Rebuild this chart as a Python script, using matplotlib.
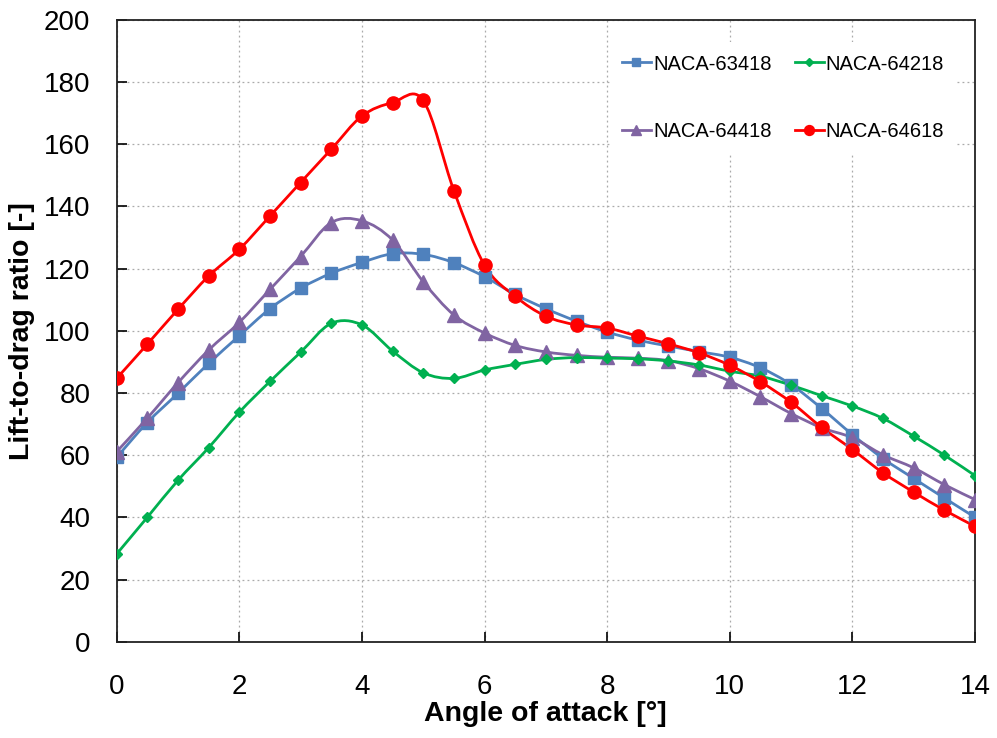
import numpy as np
import matplotlib
matplotlib.use("Agg")
import matplotlib.pyplot as plt
from matplotlib.path import Path
from matplotlib.patches import PathPatch

plt.rcParams["font.family"] = ["Liberation Sans", "DejaVu Sans"]

aoa = [0, 0.5, 1, 1.5, 2, 2.5, 3, 3.5, 4, 4.5, 5, 5.5, 6, 6.5, 7,
       7.5, 8, 8.5, 9, 9.5, 10, 10.5, 11, 11.5, 12, 12.5, 13, 13.5, 14]

naca_63418 = [59.3, 70.5, 79.9, 89.5, 98.4, 107.1, 113.7, 118.5, 122.0, 124.8,
              124.6, 121.9, 117.4, 111.7, 107.1, 103.1, 99.6, 97.0, 95.1, 93.3,
              91.5, 88.1, 82.7, 75.0, 66.6, 58.9, 52.5, 46.2, 40.0]
naca_64218 = [28.2, 40.0, 51.9, 62.4, 73.8, 83.7, 93.1, 102.4, 101.9, 93.5,
              86.5, 84.7, 87.4, 89.2, 90.8, 91.4, 91.2, 91.0, 90.3, 89.0,
              87.0, 85.4, 82.5, 79.1, 75.8, 71.8, 66.1, 60.0, 53.4]
naca_64418 = [61.1, 71.9, 83.3, 93.8, 102.7, 113.3, 123.9, 134.8, 135.4, 129.2,
              115.8, 105.1, 99.3, 95.3, 93.2, 92.1, 91.5, 91.2, 90.4, 87.8,
              83.8, 78.8, 73.4, 68.8, 65.6, 60.1, 55.9, 50.5, 45.7]
naca_64618 = [84.7, 95.7, 106.9, 117.6, 126.2, 136.9, 147.7, 158.4, 169.1, 173.4,
              174.1, 145.1, 121.1, 111.1, 104.7, 101.9, 100.9, 98.3, 95.8, 92.9,
              88.9, 83.6, 77.0, 68.9, 61.8, 54.3, 48.1, 42.3, 37.1]

series = [
    ("NACA-63418", naca_63418, "#4F81BD", "s", 8.5),
    ("NACA-64418", naca_64418, "#8064A2", "^", 9.5),
    ("NACA-64218", naca_64218, "#00B050", "D", 5.5),
    ("NACA-64618", naca_64618, "#FF0000", "o", 9.5),
]


def smooth_path(x, y):
    # excel style smoothed line: cubic bezier through the points
    pts = np.column_stack([x, y])
    verts = [pts[0]]
    codes = [Path.MOVETO]
    n = len(pts)
    for i in range(n - 1):
        p0 = pts[max(i - 1, 0)]
        p1 = pts[i]
        p2 = pts[i + 1]
        p3 = pts[min(i + 2, n - 1)]
        c1 = p1 + (p2 - p0) / 6.0
        c2 = p2 - (p3 - p1) / 6.0
        verts += [c1, c2, p2]
        codes += [Path.CURVE4] * 3
    return Path(verts, codes)


fig = plt.figure(figsize=(9.97, 7.38), dpi=100)
ax = fig.add_axes([0.117, 0.1305, 0.861, 0.8425])

for name, vals, color, marker, ms in series:
    patch = PathPatch(smooth_path(aoa, vals), facecolor="none", edgecolor=color,
                      lw=2.0, transform=ax.transData, zorder=3)
    ax.add_patch(patch)
    ax.plot(aoa, vals, linestyle="none", marker=marker, ms=ms, color=color,
            zorder=4)
    # proxy for the legend
    ax.plot([], [], color=color, lw=2.0, marker=marker, ms=ms * 0.75, label=name)

ax.set_xlim(0, 14)
ax.set_ylim(0, 200)
ax.set_xticks(np.arange(0, 15, 2))
ax.set_yticks(np.arange(0, 201, 20))
ax.grid(True, color="#AAAAAA", linestyle=(0, (1.5, 2.5)), lw=0.9)
ax.set_axisbelow(True)

ax.tick_params(direction="in", length=7, width=1.2, labelsize=20)
ax.tick_params(axis="x", pad=23)
ax.tick_params(axis="y", pad=19)
for sp in ax.spines.values():
    sp.set_linewidth(1.3)
    sp.set_color("#222222")

ax.set_xlabel("Angle of attack [°]", fontsize=20.5, fontweight="bold", labelpad=1)
ax.set_ylabel("Lift-to-drag ratio [-]", fontsize=20.5, fontweight="bold", labelpad=6)

leg = ax.legend(loc="upper right", ncol=2, fontsize=14.5, frameon=True,
                bbox_to_anchor=(0.99, 0.98), labelspacing=2.42,
                handlelength=1.45, handletextpad=0.1, columnspacing=1.15,
                borderpad=0.6)
leg.get_frame().set_edgecolor("none")
leg.get_frame().set_facecolor("white")
leg.get_frame().set_alpha(1.0)
leg.get_frame().set_boxstyle("square", pad=0)

fig.savefig("out.png", dpi=100)
